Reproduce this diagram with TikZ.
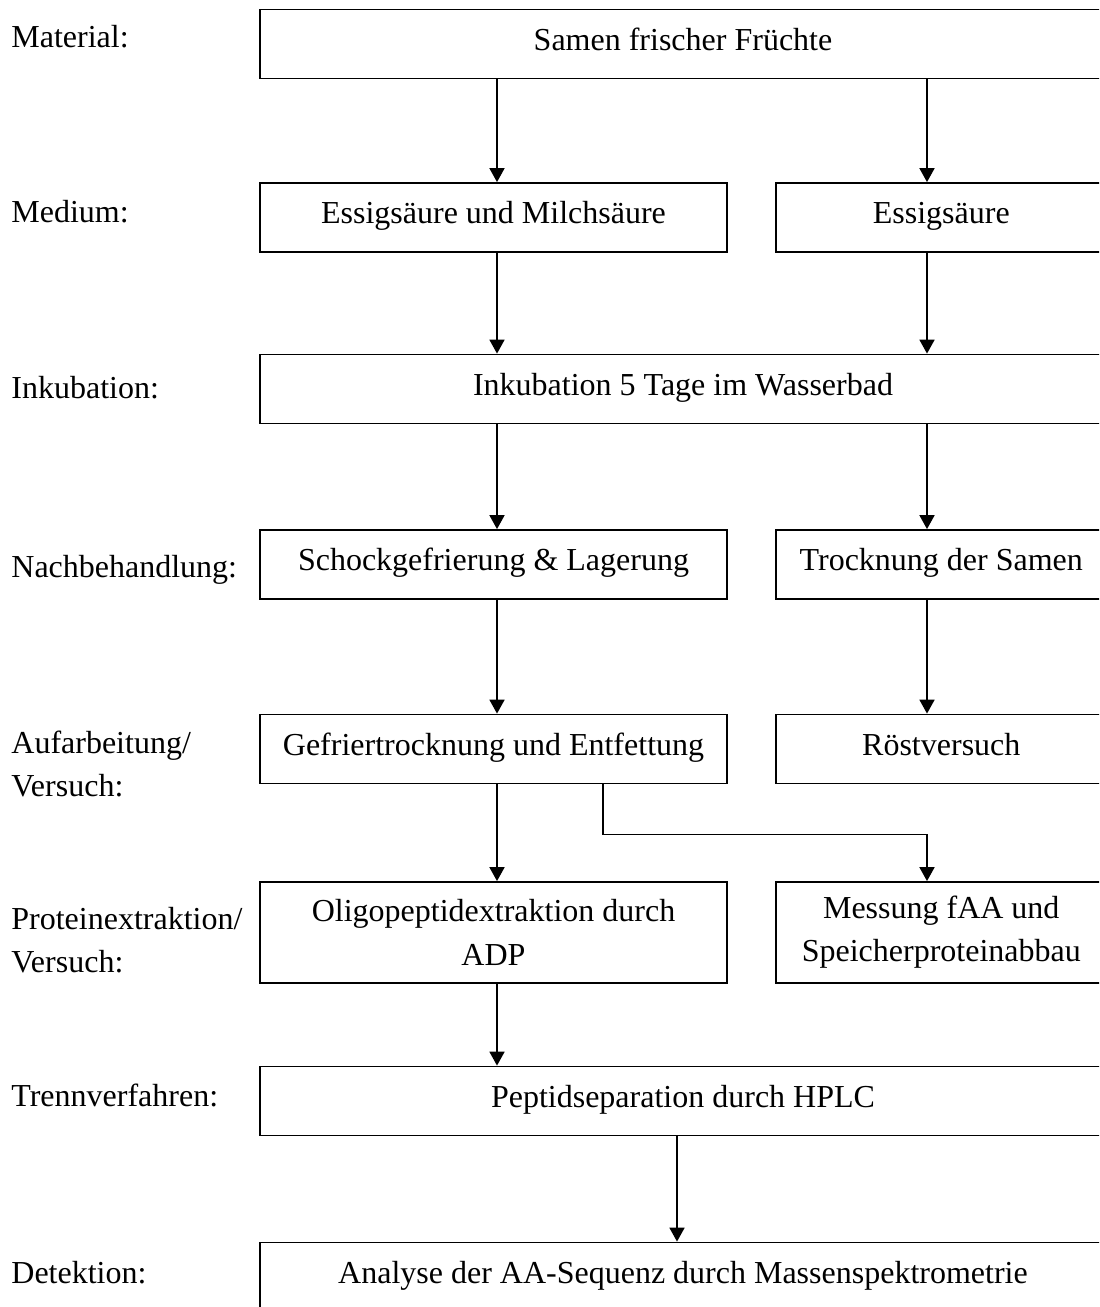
\documentclass[tikz,border=0pt]{standalone}
\usepackage{fontspec}
\setmainfont{Liberation Serif}
\usetikzlibrary{arrows.meta,positioning}

\begin{document}
\begin{tikzpicture}[x=0.5pt,y=-0.5pt,
  stage/.style={draw,line width=0.9pt,font=\fontsize{16}{21.6}\selectfont,inner sep=0pt,
    minimum height=34.5pt,text height=11pt,text depth=4.6pt},
  wide/.style={stage,minimum width=423.25pt},
  half/.style={stage,minimum width=233.5pt},
  side/.style={stage,minimum width=165.5pt},
  twoline/.style={text height={},text depth={},align=center,minimum height=50.5pt},
  lbl/.style={font=\fontsize{16}{21.5}\selectfont,inner sep=0pt,anchor=base west},
  lbltwo/.style={font=\fontsize{16}{21.5}\selectfont,inner sep=0pt,anchor=west,align=left},
  arr/.style={-{Triangle[length=7pt,width=7.5pt]},line width=0.9pt}]
  \useasboundingbox (0,0) rectangle (1099,1307);
  \clip (0,0) rectangle (1099,1307);
  % column of the arrows
  \coordinate (cL) at (497,0);
  \coordinate (cR) at (927,0);
  \coordinate (cS) at (603,0);
  \coordinate (cM) at (677,0);
  % steps
  \node[wide] (b1) at (683,44) {Samen frischer Früchte};
  \node[half] (b2a) at (493.5,217.5) {Essigsäure und Milchsäure};
  \node[side,right=23.5pt of b2a] (b2b) {Essigsäure};
  \node[wide] (b3) at (683,389) {Inkubation 5 Tage im Wasserbad};
  \node[half] (b4a) at (493.5,564.5) {Schockgefrierung \& Lagerung};
  \node[side,right=23.5pt of b4a] (b4b) {Trocknung der Samen};
  \node[half] (b5a) at (493.5,749) {Gefriertrocknung und Entfettung};
  \node[side,right=23.5pt of b5a] (b5b) {Röstversuch};
  \node[half,twoline] (b6a) at (493.5,932.5) {Oligopeptidextraktion durch\\ADP};
  \node[side,twoline,right=23.5pt of b6a] (b6b) {Messung fAA und\\Speicherproteinabbau};
  \node[wide] (b7) at (683,1101) {Peptidseparation durch HPLC};
  \node[wide] (b8) at (683,1277) {Analyse der AA-Sequenz durch Massenspektrometrie};
  % labels on the left
  \node[lbl] (lmat) at (11,47) {Material:};
  \node[lbl] (lmed) at (11,222) {Medium:};
  \node[lbl] (link) at (11,398) {Inkubation:};
  \node[lbl] (lnach) at (11,577) {Nachbehandlung:};
  \node[lbltwo] (lauf) at (11,764) {Aufarbeitung/\\Versuch:};
  \node[lbltwo] (lprot) at (11,940) {Proteinextraktion/\\Versuch:};
  \node[lbl] (ltrenn) at (11,1106) {Trennverfahren:};
  \node[lbl] (ldet) at (11,1283) {Detektion:};
  % arrows
  \draw[arr] (b1.south -| cL) -- (b2a.north -| cL);
  \draw[arr] (b1.south -| cR) -- (b2b.north -| cR);
  \draw[arr] (b2a.south -| cL) -- (b3.north -| cL);
  \draw[arr] (b2b.south -| cR) -- (b3.north -| cR);
  \draw[arr] (b3.south -| cL) -- (b4a.north -| cL);
  \draw[arr] (b3.south -| cR) -- (b4b.north -| cR);
  \draw[arr] (b4a.south -| cL) -- (b5a.north -| cL);
  \draw[arr] (b4b.south -| cR) -- (b5b.north -| cR);
  \draw[arr] (b5a.south -| cL) -- (b6a.north -| cL);
  \draw[arr] (b5a.south -| cS) -- ++(0,50) -| (b6b.north -| cR);
  \draw[arr] (b6a.south -| cL) -- (b7.north -| cL);
  \draw[arr] (b7.south -| cM) -- (b8.north -| cM);
\end{tikzpicture}
\end{document}
